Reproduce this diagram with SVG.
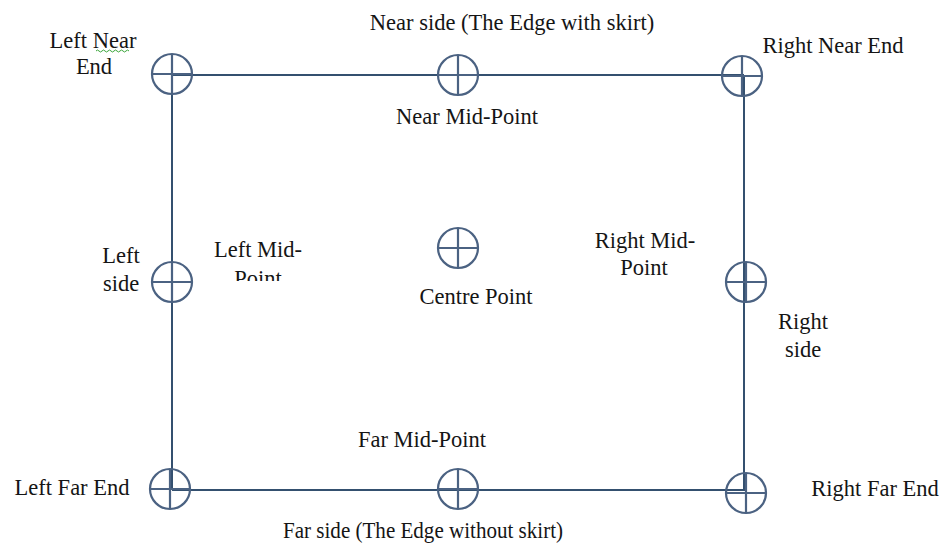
<svg xmlns="http://www.w3.org/2000/svg" width="942" height="546" viewBox="0 0 942 546">
<style>
.t{font-family:"Liberation Serif","Times New Roman",serif;font-size:22.5px;fill:#151515;text-anchor:middle}
.ln{stroke:#34506f;stroke-width:2;fill:none}
.c{stroke:#4b6282;stroke-width:2.2;fill:none}
</style>
<defs>
<g id="pt"><circle class="c" cx="0" cy="0" r="20"/><path class="c" d="M-20 0H20M0 -20V20"/></g>
<clipPath id="clipL"><rect x="200" y="230" width="120" height="51"/></clipPath>
</defs>
<rect width="942" height="546" fill="#ffffff"/>
<g id="connectors">
<path class="ln" d="M172 75H744"/>
<path class="ln" d="M172 75V490"/>
<path class="ln" d="M744 75V491"/>
<path class="ln" d="M172 490H745"/>
</g>
<g id="left-near-end"><use href="#pt" x="172" y="74"/><text class="t" x="93" y="48">Left Near</text><text class="t" x="94" y="74">End</text><path d="M96 51q1.5 -2 3 0t3 0t3 0t3 0t3 0t3 0t3 0t3 0t3 0t3 0t3 0" stroke="#3aa53a" stroke-width="1" fill="none"/></g>
<g id="near-mid-point"><use href="#pt" x="458" y="75"/><text class="t" x="467" y="124">Near Mid-Point</text></g>
<g id="right-near-end"><use href="#pt" x="742" y="76"/><text class="t" x="833" y="53">Right Near End</text></g>
<g id="near-side"><text class="t" x="512" y="30">Near side (The Edge with skirt)</text></g>
<g id="left-side"><use href="#pt" x="172" y="282"/><text class="t" x="121" y="263">Left</text><text class="t" x="121" y="291">side</text></g>
<g id="left-mid-point"><text class="t" x="258" y="257">Left Mid-</text><text class="t" x="258" y="286" clip-path="url(#clipL)">Point</text></g>
<g id="centre-point"><use href="#pt" x="458" y="248"/><text class="t" x="476" y="304">Centre Point</text></g>
<g id="right-mid-point"><text class="t" x="645" y="248">Right Mid-</text><text class="t" x="644" y="275">Point</text></g>
<g id="right-side"><use href="#pt" x="746" y="282"/><text class="t" x="803" y="329">Right</text><text class="t" x="803" y="357">side</text></g>
<g id="left-far-end"><use href="#pt" x="170" y="489"/><text class="t" x="72" y="495">Left Far End</text></g>
<g id="far-mid-point"><use href="#pt" x="458" y="489"/><text class="t" x="422" y="447">Far Mid-Point</text></g>
<g id="right-far-end"><use href="#pt" x="746" y="493"/><text class="t" x="875" y="496">Right Far End</text></g>
<g id="far-side"><text class="t" x="423" y="538" textLength="280" lengthAdjust="spacingAndGlyphs">Far side (The Edge without skirt)</text></g>
</svg>
